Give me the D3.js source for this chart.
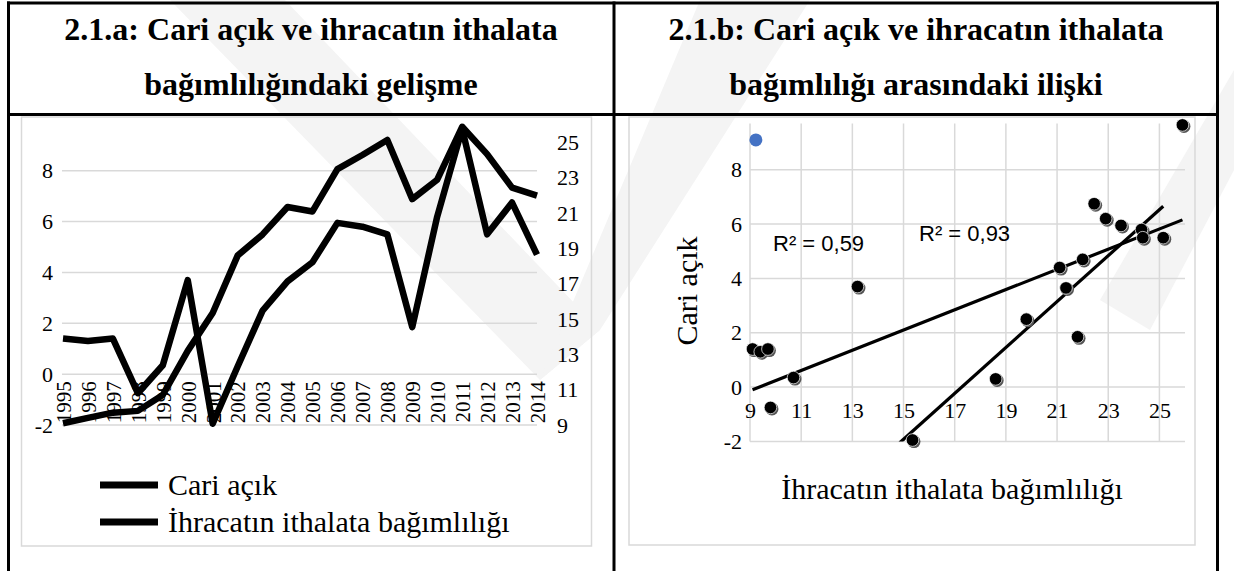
<!DOCTYPE html>
<html>
<head>
<meta charset="utf-8">
<script src="https://cdn.jsdelivr.net/npm/d3@7"></script>
<style>
  body { margin: 0; background: #fff; }
  svg { display: block; }
</style>
</head>
<body>
<div id="chart"></div>
<script>
// values
const years = ["1995", "1996", "1997", "1998", "1999", "2000", "2001", "2002", "2003", "2004",
  "2005", "2006", "2007", "2008", "2009", "2010", "2011", "2012", "2013", "2014"]
const cariAcik = [1.4, 1.3, 1.4, -0.75, 0.35, 3.7, -1.95, 0.3, 2.5, 3.65,
  4.4, 5.95, 5.8, 5.5, 1.85, 6.2, 9.65, 5.5, 6.75, 4.7]
const bagimlilik = [9.1, 9.4, 9.7, 9.8, 10.7, 13.2, 15.35, 18.6, 19.8, 21.35,
  21.1, 23.5, 24.3, 25.15, 21.8, 22.9, 25.9, 24.35, 22.45, 22.0]
const trend2Years = ["2001", "2002", "2003", "2004", "2005", "2006", "2007", "2008"]
const bluePointX = [9.23]
const bluePointY = [9.1]

const leftTicks = [-2, 0, 2, 4, 6, 8]
const rightTicks = [9, 11, 13, 15, 17, 19, 21, 23, 25]
const scatterXTicks = [9, 11, 13, 15, 17, 19, 21, 23, 25]
const scatterYTicks = [-2, 0, 2, 4, 6, 8]

const legendLabels = ["Cari açık", "İhracatın ithalata bağımlılığı"]

const W = 1234, H = 571
const serif = "'Liberation Serif', 'Times New Roman', serif"
const sans = "'Liberation Sans', Arial, sans-serif"
const GRID = "#d9d9d9"
const plain = d => String(d) // hyphen minus, like the original

const svg = d3.select("#chart").append("svg")
  .attr("width", W)
  .attr("height", H)

// faint watermark behind everything
const wm = svg.append("g").attr("fill", "#f4f4f4")
wm.append("path").attr("d", "M170,0 L285,0 L600,330 L540,380 Z")
wm.append("path").attr("d", "M700,0 L810,0 L600,330 L540,380 Z")
wm.append("path").attr("d", "M1234,70 L1234,170 L1150,330 L1100,300 Z")

// ---------- left panel : time series ----------
const left = svg.append("g")

left.append("rect")
  .attr("x", 21.5).attr("y", 117)
  .attr("width", 570).attr("height", 429)
  .attr("fill", "none").attr("stroke", GRID).attr("stroke-width", 1.5)

const x = d3.scalePoint().domain(years).range([63, 537])
const yL = d3.scaleLinear().domain([-2, 9.8]).range([425, 125])
const yR = d3.scaleLinear().domain([9, 26]).range([425, 125])

// gridlines
left.append("g")
  .selectAll("line")
  .data(leftTicks)
  .join("line")
  .attr("x1", 62).attr("x2", 537)
  .attr("y1", d => yL(d)).attr("y2", d => yL(d))
  .attr("stroke", GRID).attr("stroke-width", 1.5)

// left value axis
left.append("g")
  .attr("transform", "translate(62,0)")
  .call(d3.axisLeft(yL).tickValues(leftTicks).tickSize(0).tickPadding(9).tickFormat(plain))
  .call(g => g.select(".domain").remove())
  .call(g => g.selectAll("text")
    .style("font-family", serif).style("font-size", "22px").attr("fill", "#000"))

// right value axis
left.append("g")
  .attr("transform", "translate(548,0)")
  .call(d3.axisRight(yR).tickValues(rightTicks).tickSize(0).tickPadding(9).tickFormat(plain))
  .call(g => g.select(".domain").remove())
  .call(g => g.selectAll("text")
    .style("font-family", serif).style("font-size", "22px").attr("fill", "#000"))

// category axis, crossing at 0
left.append("g")
  .attr("transform", `translate(0,${yL(0)})`)
  .call(d3.axisBottom(x).tickSize(0))
  .call(g => g.select(".domain").remove())
  .call(g => g.selectAll("text")
    .attr("transform", "rotate(-90)")
    .attr("text-anchor", "end")
    .attr("x", -7).attr("y", 0).attr("dy", "0.35em")
    .style("font-family", serif).style("font-size", "21px").attr("fill", "#000"))

const lineL = d3.line().x((d, i) => x(years[i])).y(d => yL(d))
const lineR = d3.line().x((d, i) => x(years[i])).y(d => yR(d))

left.append("path")
  .attr("d", lineR(bagimlilik))
  .attr("fill", "none").attr("stroke", "#000").attr("stroke-width", 6.5)
  .attr("stroke-linejoin", "round")

left.append("path")
  .attr("d", lineL(cariAcik))
  .attr("fill", "none").attr("stroke", "#000").attr("stroke-width", 6.5)
  .attr("stroke-linejoin", "round")

// legend
const legend = left.append("g")
  .selectAll("g")
  .data(legendLabels)
  .join("g")
  .attr("transform", (d, i) => `translate(100,${485 + i * 37})`)

legend.append("line")
  .attr("x1", 0).attr("x2", 58)
  .attr("stroke", "#000").attr("stroke-width", 7)

legend.append("text")
  .attr("x", 68).attr("y", 10)
  .style("font-family", serif).style("font-size", "30px")
  .text(d => d)

// ---------- right panel : scatter ----------
const right = svg.append("g")

right.append("rect")
  .attr("x", 629).attr("y", 117)
  .attr("width", 566).attr("height", 428)
  .attr("fill", "none").attr("stroke", GRID).attr("stroke-width", 1.5)

const xS = d3.scaleLinear().domain([9, 26]).range([750, 1185])
const yS = d3.scaleLinear().domain([-2, 9.7]).range([441.4, 123.6])

right.append("defs").append("clipPath").attr("id", "plotClip")
  .append("rect")
  .attr("x", xS(9)).attr("y", yS(9.7))
  .attr("width", xS(26) - xS(9)).attr("height", yS(-2) - yS(9.7))

right.append("g")
  .selectAll("line")
  .data(scatterXTicks)
  .join("line")
  .attr("x1", d => xS(d)).attr("x2", d => xS(d))
  .attr("y1", yS(-2)).attr("y2", yS(9.7))
  .attr("stroke", GRID).attr("stroke-width", 1.5)

right.append("g")
  .selectAll("line")
  .data(scatterYTicks)
  .join("line")
  .attr("x1", xS(9)).attr("x2", xS(26))
  .attr("y1", d => yS(d)).attr("y2", d => yS(d))
  .attr("stroke", GRID).attr("stroke-width", 1.5)

right.append("g")
  .attr("transform", `translate(${xS(9)},0)`)
  .call(d3.axisLeft(yS).tickValues(scatterYTicks).tickSize(0).tickPadding(8).tickFormat(plain))
  .call(g => g.select(".domain").remove())
  .call(g => g.selectAll("text")
    .style("font-family", serif).style("font-size", "22px").attr("fill", "#000"))

right.append("g")
  .attr("transform", `translate(0,${yS(0)})`)
  .call(d3.axisBottom(xS).tickValues(scatterXTicks).tickSize(0).tickPadding(15).tickFormat(plain))
  .call(g => g.select(".domain").remove())
  .call(g => g.selectAll("text")
    .style("font-family", serif).style("font-size", "22px").attr("fill", "#000"))

right.append("text")
  .attr("transform", "translate(697,291) rotate(-90)")
  .attr("text-anchor", "middle")
  .style("font-family", serif).style("font-size", "30px")
  .text("Cari açık")

right.append("text")
  .attr("x", 952).attr("y", 499)
  .attr("text-anchor", "middle")
  .style("font-family", serif).style("font-size", "30px")
  .text("İhracatın ithalata bağımlılığı")

// least squares trend lines
function fit(xs, ys) {
  const mx = d3.mean(xs), my = d3.mean(ys)
  let sxx = 0, sxy = 0, syy = 0
  xs.forEach((v, i) => {
    sxx += (v - mx) * (v - mx)
    sxy += (v - mx) * (ys[i] - my)
    syy += (ys[i] - my) * (ys[i] - my)
  })
  const slope = sxy / sxx
  return { slope, intercept: my - slope * mx, r2: sxy * sxy / (sxx * syy) }
}

const sub = years.map((y, i) => i).filter(i => trend2Years.includes(years[i]))
const subX = sub.map(i => bagimlilik[i])
const subY = sub.map(i => cariAcik[i])

const fitAll = fit(bagimlilik, cariAcik)
const fitSub = fit(subX, subY)

const trends = [
  { f: fitAll, x0: d3.min(bagimlilik), x1: d3.max(bagimlilik) },
  { f: fitSub, x0: d3.min(subX) - 0.5, x1: d3.max(subX) }
]

right.append("g")
  .attr("clip-path", "url(#plotClip)")
  .selectAll("line")
  .data(trends)
  .join("line")
  .attr("x1", d => xS(d.x0)).attr("y1", d => yS(d.f.intercept + d.f.slope * d.x0))
  .attr("x2", d => xS(d.x1)).attr("y2", d => yS(d.f.intercept + d.f.slope * d.x1))
  .attr("stroke", "#000").attr("stroke-width", 3.2)

const r2Text = f => "R² = " + f.r2.toFixed(2).replace(".", ",")

right.append("text")
  .attr("x", 773).attr("y", 251)
  .style("font-family", sans).style("font-size", "22px")
  .text(r2Text(fitAll))

right.append("text")
  .attr("x", 919).attr("y", 241)
  .style("font-family", sans).style("font-size", "22px")
  .text(r2Text(fitSub))

// markers with a small shadow
const pts = right.append("g")
pts.selectAll(".shadow")
  .data(bagimlilik)
  .join("circle")
  .attr("class", "shadow")
  .attr("cx", d => xS(d) + 1.5)
  .attr("cy", (d, i) => yS(cariAcik[i]) + 1.5)
  .attr("r", 6.5)
  .attr("fill", "#555")

pts.selectAll(".dot")
  .data(bagimlilik)
  .join("circle")
  .attr("class", "dot")
  .attr("cx", d => xS(d))
  .attr("cy", (d, i) => yS(cariAcik[i]))
  .attr("r", 6.3)
  .attr("fill", "#000")
  .attr("stroke", "#fff").attr("stroke-width", 0.7)

pts.selectAll(".blue")
  .data(bluePointX)
  .join("circle")
  .attr("class", "blue")
  .attr("cx", d => xS(d))
  .attr("cy", (d, i) => yS(bluePointY[i]))
  .attr("r", 6.5)
  .attr("fill", "#4472c4")

// ---------- table frame and titles ----------
const frame = svg.append("g").attr("stroke", "#000").attr("stroke-width", 3)
frame.append("line").attr("x1", 7).attr("x2", 1219).attr("y1", 3).attr("y2", 3)
frame.append("line").attr("x1", 7).attr("x2", 1219).attr("y1", 114.5).attr("y2", 114.5)
frame.append("line").attr("x1", 8.5).attr("x2", 8.5).attr("y1", 1.5).attr("y2", H)
frame.append("line").attr("x1", 614).attr("x2", 614).attr("y1", 1.5).attr("y2", H)
frame.append("line").attr("x1", 1217.5).attr("x2", 1217.5).attr("y1", 1.5).attr("y2", H)

const titles = [
  { cx: 311, lines: ["2.1.a: Cari açık ve ihracatın ithalata", "bağımlılığındaki gelişme"] },
  { cx: 916, lines: ["2.1.b: Cari açık ve ihracatın ithalata", "bağımlılığı arasındaki ilişki"] }
]

titles.forEach(t => {
  svg.append("g")
    .selectAll("text")
    .data(t.lines)
    .join("text")
    .attr("x", t.cx)
    .attr("y", (d, i) => 40 + i * 55)
    .attr("text-anchor", "middle")
    .style("font-family", serif).style("font-size", "32px").style("font-weight", "bold")
    .text(d => d)
})
</script>
</body>
</html>
